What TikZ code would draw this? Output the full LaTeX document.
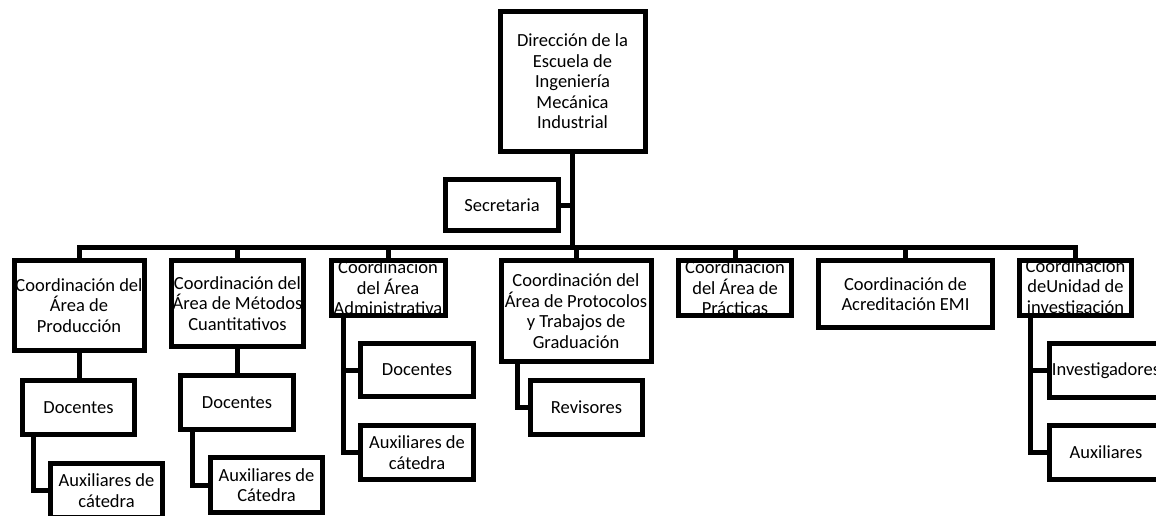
\documentclass[tikz,border=0pt]{standalone}
\usepackage{fontspec}
\setmainfont{Carlito}
\newcommand{\boxlines}[2]{\parbox[b][0pt][c]{#1}{\centering #2}}

\begin{document}
\begin{tikzpicture}[x=1pt,y=-1pt,
  orgbox/.style={draw, line width=5pt, inner sep=0pt, font=\fontsize{18.5}{20.5}\selectfont},
  link/.style={line width=5pt, line cap=rect}]
  \useasboundingbox[fill=white] (0,0) rectangle (1156,516);
  % direccion y secretaria
  \node[orgbox, minimum width=145pt, minimum height=139pt] (dir) at (572.5,81.5) {\boxlines{145pt}{Dirección de la\\Escuela de\\Ingeniería\\Mecánica\\Industrial}};
  \node[orgbox, minimum width=113pt, minimum height=51pt] (sec) at (502,205) {\boxlines{113pt}{Secretaria}};
  \coordinate (bus) at (0,247);
  % coordinaciones
  \node[orgbox, minimum width=130pt, minimum height=90pt] (b1) at (79,305.5) {\boxlines{130pt}{Coordinación del\\Área de\\Producción}};
  \node[orgbox, minimum width=132pt, minimum height=86pt] (b2) at (237.5,303.5) {\boxlines{132pt}{Coordinación del\\Área de Métodos\\Cuantitativos}};
  \node[orgbox, minimum width=114pt, minimum height=55pt] (b3) at (388,288) {\boxlines{114pt}{Coordinación\\del Área\\Administrativa}};
  \node[orgbox, minimum width=150pt, minimum height=101pt] (b4) at (576,311) {\boxlines{150pt}{Coordinación del\\Área de Protocolos\\y Trabajos de\\Graduación}};
  \node[orgbox, minimum width=113pt, minimum height=55pt] (b5) at (735,288) {\boxlines{113pt}{Coordinación\\del Área de\\Prácticas}};
  \node[orgbox, minimum width=174pt, minimum height=67pt] (b6) at (905.5,294) {\boxlines{174pt}{Coordinación de\\Acreditación EMI}};
  \node[orgbox, minimum width=112pt, minimum height=55pt] (b7) at (1075.5,288) {\boxlines{112pt}{Coordinación\\deUnidad de\\investigación}};
  % personal
  \node[orgbox, minimum width=112pt, minimum height=54pt] (d1) at (78.5,407.5) {\boxlines{112pt}{Docentes}};
  \node[orgbox, minimum width=112pt, minimum height=54pt] (a1) at (106.5,490.5) {\boxlines{112pt}{Auxiliares de\\cátedra}};
  \node[orgbox, minimum width=113pt, minimum height=54pt] (d2) at (237,402.5) {\boxlines{113pt}{Docentes}};
  \node[orgbox, minimum width=112pt, minimum height=55pt] (a2) at (266.5,485) {\boxlines{112pt}{Auxiliares de\\Cátedra}};
  \node[orgbox, minimum width=113pt, minimum height=53pt] (d3) at (417,370) {\boxlines{113pt}{Docentes}};
  \node[orgbox, minimum width=113pt, minimum height=54pt] (a3) at (417,452.5) {\boxlines{113pt}{Auxiliares de\\cátedra}};
  \node[orgbox, minimum width=112pt, minimum height=54pt] (r4) at (586.5,407.5) {\boxlines{112pt}{Revisores}};
  \node[orgbox, minimum width=113pt, minimum height=54pt] (i7) at (1106,370.5) {\boxlines{113pt}{Investigadores}};
  \node[orgbox, minimum width=113pt, minimum height=54pt] (x7) at (1106,452.5) {\boxlines{113pt}{Auxiliares}};
  % lineas
  \draw[link] (dir.south) -- (dir.south |- bus);
  \draw[link] (sec.east) -- (sec.east -| dir.south);
  \draw[link] (b1.north |- bus) -- (b7.north |- bus);
  \foreach \n in {b1,b2,b3,b4,b5,b6,b7}
    \draw[link] (\n.north) -- (\n.north |- bus);
  \draw[link] (b1.south) -- (b1.south |- d1.north);
  \draw[link] ([xshift=13pt]d1.south west) |- (a1.west);
  \draw[link] (b2.south) -- (b2.south |- d2.north);
  \draw[link] ([xshift=14pt]d2.south west) |- (a2.west);
  \draw[link] ([xshift=15pt]b3.south west) |- (d3.west);
  \draw[link] ([xshift=15pt]b3.south west) |- (a3.west);
  \draw[link] ([xshift=18.5pt]b4.south west) |- (r4.west);
  \draw[link] ([xshift=13pt]b7.south west) |- (i7.west);
  \draw[link] ([xshift=13pt]b7.south west) |- (x7.west);
\end{tikzpicture}
\end{document}
